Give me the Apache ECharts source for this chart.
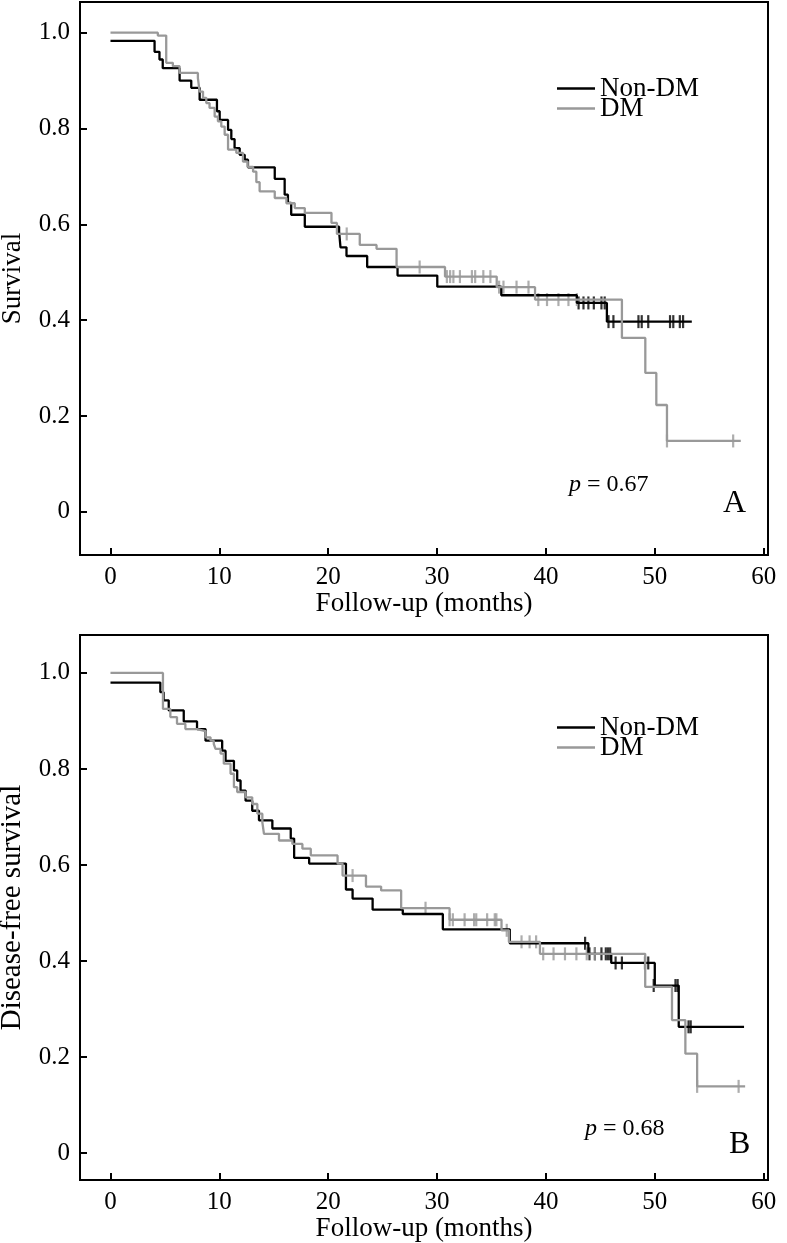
<!DOCTYPE html>
<html>
<head>
<meta charset="utf-8">
<script src="https://cdn.jsdelivr.net/npm/echarts@6/dist/echarts.min.js"></script>
<style>
html,body{margin:0;padding:0;background:#fff;}
#chart{width:787px;height:1243px;}
</style>
</head>
<body>
<div id="chart"></div>
<script>
// ---- data (months, survival) ----
var xTicks = [0, 10, 20, 30, 40, 50, 60];
var yTicks = [0, 0.2, 0.4, 0.6, 0.8, 1.0];
var legendNames = ['Non-DM', 'DM'];

// Panel A: overall survival
var aNonDM = [[0,0.983],[4.05,0.960],[4.5,0.944],[4.8,0.926],[6.35,0.900],[7.42,0.885],[8.19,0.860],[9.78,0.836],[10.03,0.818],[10.8,0.797],[11.1,0.778],[11.4,0.759],[11.87,0.745],[12.33,0.735],[12.63,0.719],[15.09,0.695],[16.0,0.662],[16.3,0.645],[16.6,0.620],[17.85,0.595],[21.0,0.585],[21.13,0.552],[21.68,0.534],[23.58,0.511],[26.37,0.493],[30.02,0.470],[35.9,0.452],[42.84,0.436],[45.6,0.397],[53.4,0.397]];
var aDM = [[0,1.0],[4.35,0.994],[5.12,0.937],[5.73,0.930],[6.35,0.916],[8.03,0.905],[8.19,0.877],[8.5,0.864],[8.8,0.853],[9.1,0.843],[9.57,0.825],[9.87,0.815],[10.18,0.804],[10.49,0.787],[10.8,0.756],[11.56,0.749],[12.17,0.731],[12.6,0.720],[13.1,0.710],[13.4,0.688],[13.7,0.669],[15.09,0.655],[16.16,0.644],[16.93,0.634],[17.85,0.624],[20.3,0.603],[20.8,0.580],[22.9,0.557],[24.44,0.549],[26.28,0.511],[30.73,0.491],[35.48,0.469],[39.0,0.443],[46.98,0.363],[49.13,0.290],[50.14,0.223],[51.12,0.148],[57.9,0.148]];
var aNonDMCens = [[43.0,0.436],[43.45,0.436],[43.9,0.436],[44.4,0.436],[45.1,0.436],[45.4,0.436],[45.75,0.397],[46.2,0.397],[48.5,0.397],[48.8,0.397],[49.4,0.397],[51.4,0.397],[51.7,0.397],[52.3,0.397],[52.6,0.397]];
var aDMCens = [[21.7,0.580],[28.4,0.511],[30.9,0.491],[31.2,0.491],[31.5,0.491],[32.1,0.491],[33.2,0.491],[33.5,0.491],[34.25,0.491],[34.9,0.491],[35.7,0.469],[36.1,0.469],[37.3,0.469],[38.4,0.469],[39.3,0.443],[40.1,0.443],[41.15,0.443],[42.07,0.443],[42.84,0.443],[51.12,0.148],[57.2,0.148]];

// Panel B: disease-free survival
var bNonDM = [[0,0.980],[4.58,0.960],[4.88,0.943],[5.35,0.922],[6.73,0.899],[7.95,0.883],[8.73,0.859],[10.26,0.838],[10.57,0.817],[11.34,0.797],[11.64,0.776],[11.95,0.755],[12.41,0.734],[13.02,0.713],[13.64,0.693],[14.87,0.676],[16.56,0.655],[16.87,0.615],[18.25,0.603],[21.63,0.549],[22.24,0.530],[24.08,0.507],[26.85,0.498],[30.53,0.466],[36.68,0.437],[43.9,0.415],[46.0,0.396],[50.0,0.349],[52.2,0.263],[58.2,0.263]];
var bDM = [[0,1.0],[4.82,0.925],[5.5,0.908],[6.11,0.894],[6.88,0.883],[7.95,0.879],[8.73,0.866],[9.19,0.859],[9.49,0.852],[9.65,0.842],[10.11,0.832],[10.41,0.811],[11.03,0.790],[11.34,0.762],[11.64,0.752],[12.41,0.741],[13.02,0.727],[13.49,0.707],[13.95,0.689],[14.1,0.665],[15.48,0.651],[16.71,0.644],[17.63,0.634],[18.4,0.620],[20.86,0.603],[21.32,0.578],[23.47,0.555],[24.86,0.547],[26.7,0.510],[31.15,0.486],[35.92,0.464],[36.6,0.440],[39.45,0.415],[49.12,0.346],[51.58,0.277],[52.81,0.207],[53.89,0.139],[58.3,0.139]];
var bNonDMCens = [[43.6,0.437],[44.0,0.415],[44.5,0.415],[45.1,0.415],[45.5,0.415],[45.7,0.415],[45.9,0.415],[46.4,0.396],[46.98,0.396],[49.1,0.396],[49.4,0.396],[49.9,0.349],[51.9,0.349],[52.1,0.349],[53.1,0.263],[53.3,0.263]];
var bDMCens = [[22.24,0.578],[28.94,0.510],[31.15,0.486],[31.45,0.486],[32.53,0.486],[33.4,0.486],[33.6,0.486],[34.6,0.486],[35.3,0.486],[35.45,0.486],[36.4,0.464],[37.76,0.440],[38.5,0.440],[39.1,0.440],[39.75,0.415],[40.7,0.415],[41.75,0.415],[42.8,0.415],[43.75,0.415],[44.5,0.415],[53.89,0.139],[57.7,0.139]];

// ---- chart ----
var FONT = 'Liberation Serif';
var BLACK = '#000000';
var GRAY = '#999999';

function xAxisCfg(gi) {
  return {
    type: 'value', gridIndex: gi, min: -2.8, max: 60.4,
    name: 'Follow-up (months)', nameLocation: 'middle', nameGap: 32,
    nameTextStyle: {fontFamily: FONT, fontSize: 27, color: '#000'},
    axisLine: {show: true, onZero: false, lineStyle: {color: '#000', width: 2}},
    axisTick: {show: true, inside: true, length: 7, customValues: xTicks, lineStyle: {color: '#000', width: 2}},
    axisLabel: {customValues: xTicks, fontFamily: FONT, fontSize: 25, color: '#000', margin: 10},
    splitLine: {show: false}
  };
}
function yAxisCfg(gi, name, min, max, nameSize, nameGap) {
  return {
    type: 'value', gridIndex: gi, min: min, max: max,
    name: name, nameLocation: 'middle', nameGap: nameGap, nameRotate: 90,
    nameTextStyle: {fontFamily: FONT, fontSize: nameSize, color: '#000'},
    axisLine: {show: true, onZero: false, lineStyle: {color: '#000', width: 2}},
    axisTick: {show: true, inside: true, length: 7, customValues: yTicks, lineStyle: {color: '#000', width: 2}},
    axisLabel: {customValues: yTicks, fontFamily: FONT, fontSize: 25, color: '#000', margin: 10,
      formatter: function (v) { return v === 0 ? '0' : v.toFixed(1); }},
    splitLine: {show: false}
  };
}
function curve(name, data, color, gi) {
  return {
    name: name, type: 'line', step: 'end', data: data, xAxisIndex: gi, yAxisIndex: gi,
    symbol: 'none', showSymbol: false, silent: true,
    lineStyle: {color: color, width: 2.3}, itemStyle: {color: color}
  };
}
function cens(name, data, color, gi) {
  return {
    name: name, type: 'scatter', data: data, xAxisIndex: gi, yAxisIndex: gi,
    symbol: 'rect', symbolSize: [2.2, 13], silent: true,
    itemStyle: {color: color}
  };
}
function legendCfg(name, top) {
  return {
    data: [name], orient: 'vertical', left: 552, top: top,
    icon: 'rect', itemWidth: 38, itemHeight: 2.5, itemGap: 0,
    textStyle: {fontFamily: FONT, fontSize: 27, color: '#000'},
    selectedMode: false
  };
}

var chart = echarts.init(document.getElementById('chart'), null, {renderer: 'canvas'});
chart.setOption({
  animation: false,
  backgroundColor: '#fff',
  grid: [
    {left: 80, right: 19, top: 2, height: 553, show: true, borderColor: '#000', borderWidth: 2, containLabel: false, outerBoundsMode: 'none'},
    {left: 80, right: 19, top: 635, height: 545, show: true, borderColor: '#000', borderWidth: 2, containLabel: false, outerBoundsMode: 'none'}
  ],
  xAxis: [xAxisCfg(0), xAxisCfg(1)],
  yAxis: [yAxisCfg(0, 'Survival', -0.09, 1.064, 27, 54), yAxisCfg(1, 'Disease-free survival', -0.056, 1.079, 29, 53)],
  legend: [legendCfg(legendNames[0], 70), legendCfg(legendNames[1], 90), legendCfg(legendNames[0], 709), legendCfg(legendNames[1], 729)],
  series: [
    curve('Non-DM', aNonDM, BLACK, 0),
    curve('DM', aDM, GRAY, 0),
    cens('A Non-DM censored', aNonDMCens, BLACK, 0),
    cens('A DM censored', aDMCens, GRAY, 0),
    curve('Non-DM', bNonDM, BLACK, 1),
    curve('DM', bDM, GRAY, 1),
    cens('B Non-DM censored', bNonDMCens, BLACK, 1),
    cens('B DM censored', bDMCens, GRAY, 1)
  ],
  graphic: [
    {type: 'text', left: 569, top: 473, style: {text: '{i|p} = 0.67', rich: {i: {fontStyle: 'italic', fontFamily: FONT, fontSize: 24}}, fontFamily: FONT, fontSize: 24, fill: '#000'}},
    {type: 'text', left: 723, top: 488, style: {text: 'A', fontFamily: FONT, fontSize: 32, fill: '#000'}},
    {type: 'text', left: 585, top: 1117, style: {text: '{i|p} = 0.68', rich: {i: {fontStyle: 'italic', fontFamily: FONT, fontSize: 24}}, fontFamily: FONT, fontSize: 24, fill: '#000'}},
    {type: 'text', left: 729, top: 1129, style: {text: 'B', fontFamily: FONT, fontSize: 32, fill: '#000'}}
  ]
});
</script>
</body>
</html>
